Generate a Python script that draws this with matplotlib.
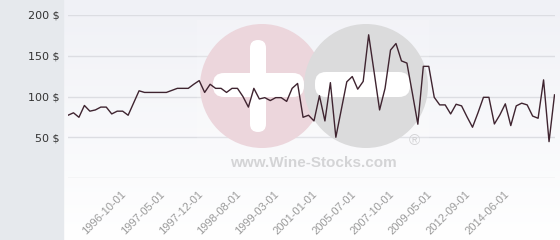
import numpy as np
import matplotlib.pyplot as plt
import matplotlib.transforms as mtransforms
from matplotlib.patches import Circle, FancyBboxPatch, Rectangle

# prices, one per sale (category axis)
prices = [77, 80, 74.5, 89, 82, 83.5, 87, 87, 78.6, 82,
          82, 77, 92, 107, 105, 105, 105, 105, 105, 107.5,
          110, 110, 110, 115, 119.5, 105, 115, 110, 110, 105,
          110, 110, 100, 87, 110, 97, 98.6, 95, 98.6, 98.6,
          94, 110, 116, 74.5, 77, 70, 101, 70, 117, 50,
          84, 118, 124.5, 109, 118.5, 175.7, 130, 83.5, 110, 157,
          165, 143.7, 141, 104, 66, 137, 137, 99, 89.7, 89.7,
          78.6, 90.5, 88.5, 75, 62.3, 80, 99, 99, 66.3, 77.4,
          91, 64.3, 88.5, 91.8, 89.7, 76, 73.3, 120.4, 44.6, 102]

tick_index = [11, 18, 25, 32, 39, 46, 53, 60, 67, 74, 81]
tick_labels = ['1996-10-01', '1997-05-01', '1997-12-01', '1998-08-01',
               '1999-03-01', '2001-01-01', '2005-07-01', '2007-10-01',
               '2009-05-01', '2012-09-01', '2014-06-01']
y_ticks = [50, 100, 150, 200]

W, H = 560, 240
fig = plt.figure(figsize=(W / 100, H / 100), dpi=100)

# background layer in pixel coordinates
bg = fig.add_axes([0, 0, 1, 1])
bg.set_xlim(0, W)
bg.set_ylim(H, 0)
bg.axis('off')
grad = np.linspace(0, 1, 256).reshape(-1, 1)
top = np.array([240, 241, 246]) / 255
bot = np.array([255, 255, 255]) / 255
img = top + (bot - top) * grad[..., None]
bg.imshow(img, extent=[64, W, H, 0], aspect='auto', zorder=0)
bg.add_patch(Rectangle((0, 0), 63, H, color='#e6e9ed', zorder=1))

# chart
ax = fig.add_axes([68 / W, (H - 178) / H, (555 - 68) / W, (178 - 15) / H])
ax.patch.set_alpha(0)
ax.set_axisbelow(True)
x = np.arange(len(prices))
ax.plot(x, prices, color='#3f2430', lw=1, zorder=3)
ax.set_xlim(0, 89.09)
ax.set_ylim(0, 200)
for s in ax.spines.values():
    s.set_visible(False)
ax.set_yticks(y_ticks)
ax.set_yticklabels([f'{v} $' for v in y_ticks], fontsize=8, color='#333333',
                   family='DejaVu Sans')
ax.axhline(0, color='#dcdde2', lw=1, zorder=0.5)
ax.grid(axis='y', color='#dcdde2', lw=1)
ax.set_xticks(tick_index)
ax.set_xticklabels(tick_labels, rotation=45, ha='right', va='top', fontsize=8,
                   color='#9a9a9a', family='Liberation Sans')
ax.tick_params(axis='both', length=0)
ax.tick_params(axis='y', pad=6)
ax.tick_params(axis='x', pad=8)

# watermark, between grid and line (pixel coordinates, y down)
px = mtransforms.Affine2D().scale(1 / W, -1 / H).translate(0, 1) + fig.transFigure


def mark(p):
    p.set_transform(px)
    p.set_clip_on(False)
    p.set_zorder(2)
    ax.add_artist(p)


mark(Rectangle((197, 20), 232, 155, color='white', alpha=0.15, lw=0))
mark(Circle((262, 86), 62, color='#ecd6dc', lw=0))
mark(Circle((366, 86), 62, color='#dbdbdc', lw=0))
mark(FancyBboxPatch((250, 40), 16, 92, boxstyle='round,pad=0,rounding_size=8',
                    color='white', lw=0))
mark(FancyBboxPatch((213, 73), 91, 24, boxstyle='round,pad=0,rounding_size=11',
                    color='white', lw=0))
mark(FancyBboxPatch((315, 72), 95, 25, boxstyle='round,pad=0,rounding_size=11',
                    color='white', lw=0))
ax.text(313, 163, 'www.Wine-Stocks.com', ha='center', va='center', fontsize=11,
        fontweight='bold', family='Liberation Sans', color='#d4d4d6',
        transform=px, zorder=2)
ax.text(414, 141, '\u00ae', ha='center', va='center', fontsize=11,
        family='Liberation Sans', color='#d4d4d6', transform=px, zorder=2)

fig.savefig('out.png', dpi=100)
